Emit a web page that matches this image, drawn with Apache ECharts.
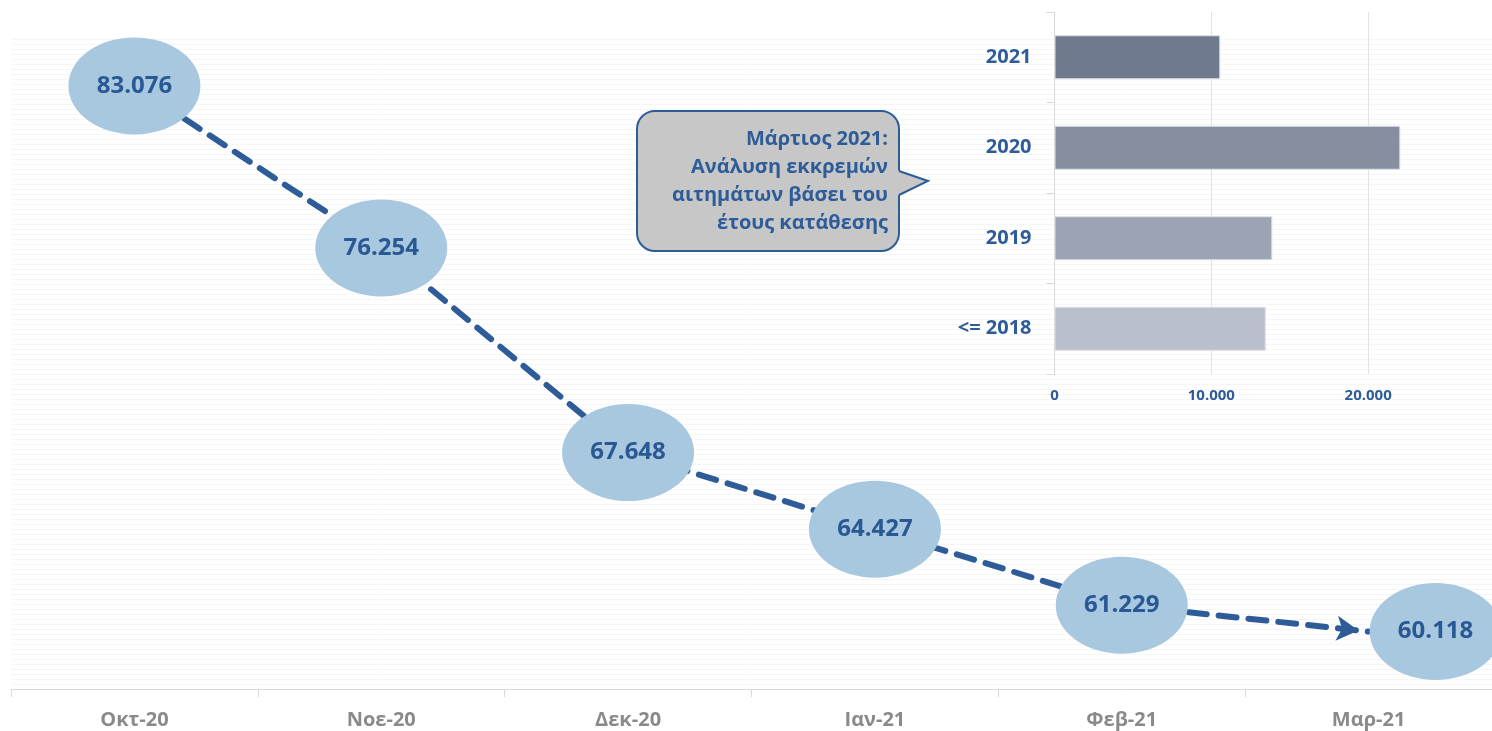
<!DOCTYPE html>
<html>
<head>
<meta charset="utf-8">
<title>Εκκρεμή αιτήματα</title>
<script src="https://cdn.jsdelivr.net/npm/echarts@6/dist/echarts.min.js"></script>
<style>
	html, body { margin: 0; padding: 0; background: #ffffff; }
	#main { width: 1492px; height: 731px; }
</style>
</head>
<body>
<div id="main"></div>
<script>
	// μηνιαία εκκρεμή αιτήματα
	var months = ['Οκτ-20', 'Νοε-20', 'Δεκ-20', 'Ιαν-21', 'Φεβ-21', 'Μαρ-21'];
	var pending = [83076, 76254, 67648, 64427, 61229, 60118];

	// Μάρτιος 2021 ανά έτος κατάθεσης
	var years = ['2021', '2020', '2019', '<= 2018'];
	var byYear = [10570, 22050, 13890, 13470];
	var barTicks = [0, 10000, 20000, 30000];

	var callout = ['Μάρτιος 2021:', 'Ανάλυση εκκρεμών', 'αιτημάτων βάσει του', 'έτους κατάθεσης'];

	var blue = '#2d5c99';
	var barPalette = ['#6f7a8e', '#868ea0', '#9ca3b2', '#b9bfcc'];
	var font = '"Open Sans", "Noto Sans", sans-serif';
	var ellipse = 'path://M0 50A66 50 0 1 1 132 50A66 50 0 1 1 0 50Z';

	function fmt(v) {
		return String(v).replace(/\B(?=(\d{3})+(?!\d))/g, '.');
	}

	// γραμμή: ο τελευταίος κόμβος έχει βέλος
	var lineData = pending.map(function (v, i) {
		if (i === pending.length - 1) {
			return {
				value: v,
				symbol: 'arrow',
				symbolSize: [19, 22],
				symbolRotate: -96,
				symbolOffset: [-10, -1],
				itemStyle: { color: blue }
			};
		}
		return v;
	});

	// ελλείψεις με τις τιμές, η τελευταία μετατοπισμένη δεξιά
	var ellipseData = pending.map(function (v, i) {
		if (i === pending.length - 1) {
			return { value: v, symbolOffset: [67, 0] };
		}
		return v;
	});

	var barData = byYear.map(function (v, i) {
		return { value: v, itemStyle: { color: barPalette[i] } };
	});

	var option = {
		animation: false,
		backgroundColor: '#ffffff',
		textStyle: { fontFamily: font },
		grid: [
			{ left: 11, right: 0, top: 39, bottom: 42, outerBoundsMode: 'none' },
			{ left: 1054.5, right: -33, top: 12, bottom: 357, outerBoundsMode: 'none' }
		],
		xAxis: [{
			type: 'category',
			gridIndex: 0,
			data: months,
			boundaryGap: true,
			axisLine: { lineStyle: { color: '#d9d9d9', width: 1 } },
			axisTick: { show: true, length: 8, lineStyle: { color: '#d9d9d9' } },
			axisLabel: {
				color: '#8a8a8a',
				fontSize: 20,
				fontWeight: 'bold',
				fontFamily: font,
				margin: 21
			}
		}, {
			type: 'value',
			gridIndex: 1,
			min: barTicks[0],
			max: barTicks[barTicks.length - 1],
			interval: barTicks[1] - barTicks[0],
			axisLine: { show: false },
			axisTick: { show: false },
			splitLine: { show: true, lineStyle: { color: '#e2e2e2' } },
			axisLabel: {
				color: blue,
				fontSize: 15,
				fontWeight: 'bold',
				fontFamily: font,
				margin: 14,
				showMaxLabel: false,
				formatter: fmt
			}
		}],
		yAxis: [{
			type: 'value',
			gridIndex: 0,
			min: 57700,
			max: 85050,
			show: false
		}, {
			// λεπτές οριζόντιες γραμμές φόντου
			type: 'value',
			gridIndex: 0,
			min: 0,
			max: 130,
			interval: 1,
			axisLine: { show: false },
			axisTick: { show: false },
			axisLabel: { show: false },
			splitLine: { show: true, lineStyle: { color: '#f6f6f6', width: 1 } }
		}, {
			type: 'category',
			gridIndex: 1,
			data: years,
			inverse: true,
			axisLine: { show: true, lineStyle: { color: '#d9d9d9' } },
			axisTick: { show: true, length: 8, lineStyle: { color: '#d9d9d9' } },
			axisLabel: {
				color: blue,
				fontSize: 20,
				fontWeight: 'bold',
				fontFamily: font,
				margin: 23
			}
		}],
		series: [{
			name: 'γραμμή',
			type: 'line',
			xAxisIndex: 0,
			yAxisIndex: 0,
			data: lineData,
			symbol: 'none',
			lineStyle: { color: blue, width: 6, type: [18, 12], cap: 'round' },
			z: 2
		}, {
			name: 'τιμές',
			type: 'scatter',
			xAxisIndex: 0,
			yAxisIndex: 0,
			data: ellipseData,
			symbol: ellipse,
			symbolSize: [132, 97],
			symbolKeepAspect: false,
			itemStyle: { color: '#a8c8df', opacity: 1 },
			label: {
				show: true,
				position: 'inside',
				color: '#2a5894',
				fontSize: 24,
				fontWeight: 'bold',
				fontFamily: font,
				formatter: function (p) { return fmt(p.value); }
			},
			z: 3
		}, {
			name: 'ανά έτος',
			type: 'bar',
			xAxisIndex: 1,
			yAxisIndex: 2,
			data: barData,
			barWidth: 44,
			itemStyle: { borderColor: '#dde0e6', borderWidth: 1 },
			z: 4
		}],
		graphic: [{
			// πλαίσιο σχολίου
			type: 'rect',
			shape: { x: 637, y: 111, width: 262, height: 140, r: 18 },
			style: { fill: '#c7c7c7', stroke: blue, lineWidth: 2 },
			z: 10
		}, {
			type: 'polygon',
			shape: { points: [[897, 170], [928, 181], [897, 196]] },
			style: { fill: '#c7c7c7' },
			z: 11
		}, {
			type: 'polyline',
			shape: { points: [[899, 171], [928, 181], [899, 195]] },
			style: { fill: null, stroke: blue, lineWidth: 2 },
			z: 11
		}, {
			type: 'text',
			x: 888,
			y: 181,
			style: {
				text: callout.join('\n'),
				fill: blue,
				font: 'bold 20px ' + font,
				lineHeight: 28,
				align: 'right',
				verticalAlign: 'middle'
			},
			z: 12
		}]
	};

	var myChart = echarts.init(document.getElementById('main'));
	myChart.setOption(option);
</script>
</body>
</html>
